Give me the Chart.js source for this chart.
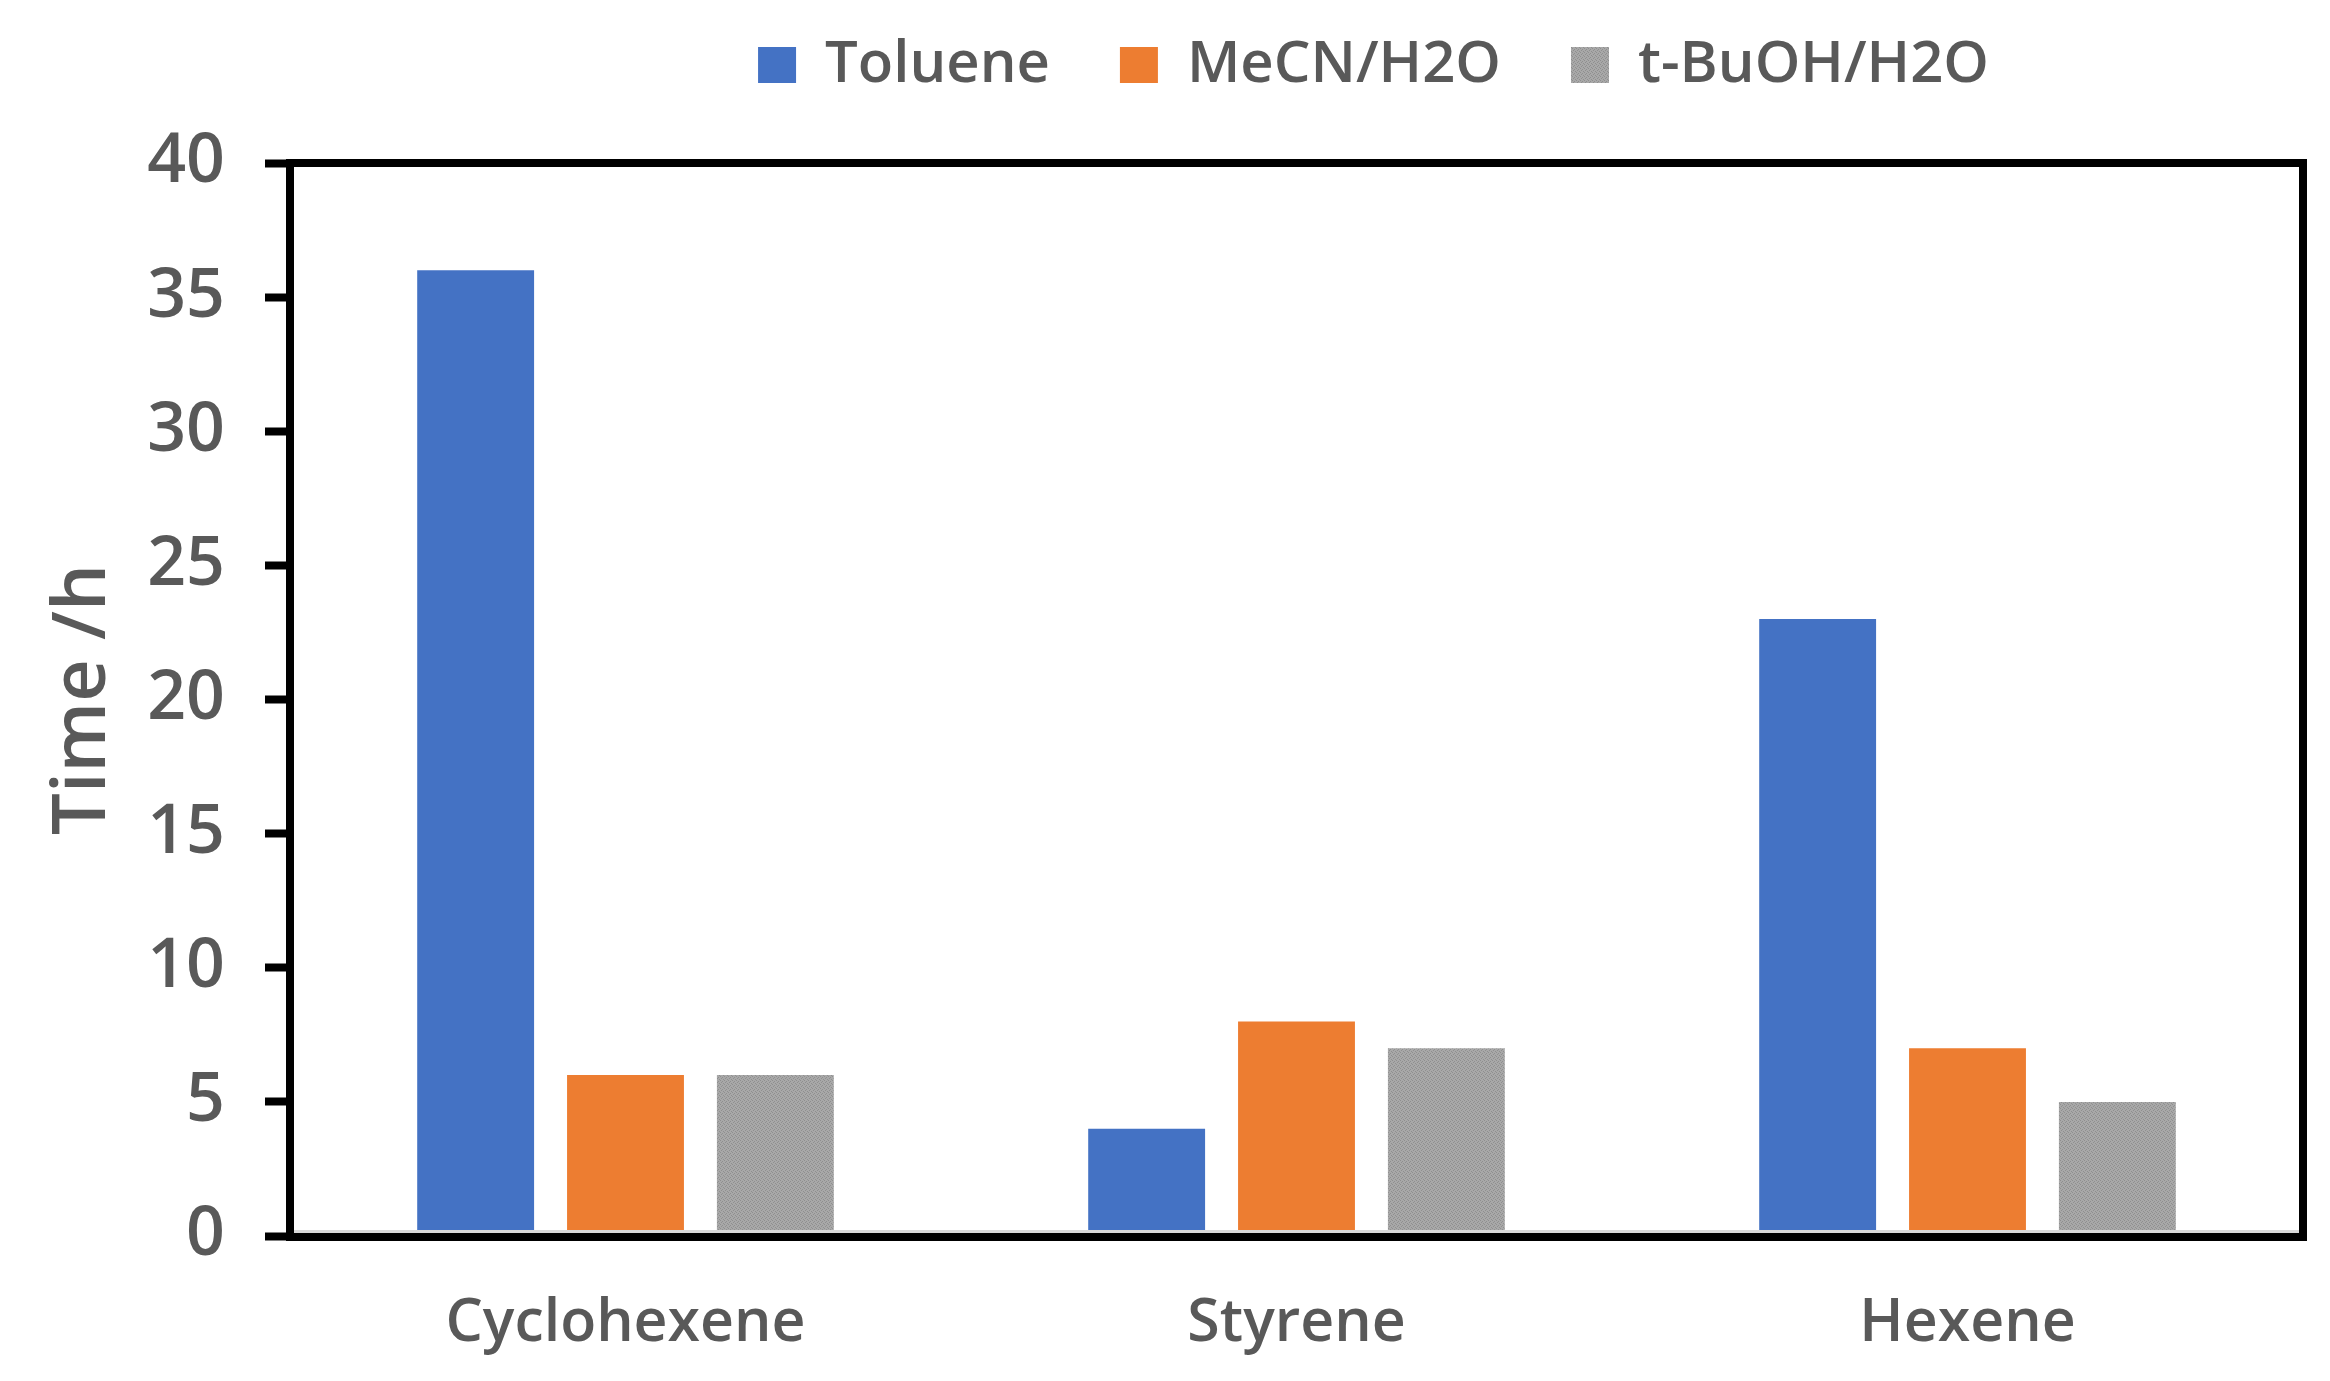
<!DOCTYPE html>
<html>
<head>
<meta charset="utf-8">
<script src="https://cdn.jsdelivr.net/npm/chart.js@4.4.0/dist/chart.umd.min.js"></script>
<style>
html,body{margin:0;padding:0;background:#ffffff;}
#wrap{width:2330px;height:1381px;position:relative;}
</style>
</head>
<body>
<div id="wrap"><canvas id="c"></canvas></div>
<script>
// ---- data ----
const categories = ['Cyclohexene', 'Styrene', 'Hexene'];
const seriesNames = ['Toluene', 'MeCN/H2O', 't-BuOH/H2O'];
const toluene = [36, 4, 23];
const mecnH2O = [6, 8, 7];
const tbuohH2O = [6, 7, 5];
const yMin = 0, yMax = 40, yStep = 5;
const yTitle = 'Time /h';

// ---- styles ----
const FONT = "'Open Sans', 'Noto Sans', sans-serif";
const TEXT = '#595959';
const canvas = document.getElementById('c');
const ctx = canvas.getContext('2d');

function grayPattern() {
  const p = document.createElement('canvas');
  p.width = 4; p.height = 4;
  const g = p.getContext('2d');
  g.fillStyle = '#a8a8a8'; g.fillRect(0, 0, 4, 4);
  g.fillStyle = '#8f8f8f';
  g.fillRect(0, 0, 1, 1); g.fillRect(2, 1, 1, 1); g.fillRect(1, 2, 1, 1); g.fillRect(3, 3, 1, 1);
  return ctx.createPattern(p, 'repeat');
}

const framePlugin = {
  id: 'frame',
  afterDatasetsDraw(chart) {
    const a = chart.chartArea;
    const c = chart.ctx;
    c.save();
    c.fillStyle = '#d9d9d9';
    c.fillRect(a.left, a.bottom - 6, a.right - a.left, 5);
    c.strokeStyle = '#000000';
    c.lineWidth = 8;
    c.lineJoin = 'miter';
    c.strokeRect(a.left, a.top, a.right - a.left, a.bottom - a.top + 1);
    c.restore();
  }
};

const legendShift = {
  id: 'legendShift',
  afterLayout(chart) {
    const l = chart.legend;
    if (l) { l.left += 222; l.right += 222; l.top -= 59; l.bottom -= 59; }
  }
};

new Chart(ctx, {
  type: 'bar',
  data: {
    labels: categories,
    datasets: [
      { label: seriesNames[0], data: toluene, backgroundColor: '#4472C4' },
      { label: seriesNames[1], data: mecnH2O, backgroundColor: '#ED7D31' },
      { label: seriesNames[2], data: tbuohH2O, backgroundColor: grayPattern() }
    ]
  },
  options: {
    responsive: true,
    maintainAspectRatio: false,
    devicePixelRatio: 1,
    animation: false,
    datasets: { bar: { barPercentage: 0.78, categoryPercentage: 0.67, borderWidth: 0 } },
    layout: { padding: { top: 25, left: 0, right: 27, bottom: 0 } },
    plugins: {
      legend: {
        position: 'top',
        labels: {
          boxWidth: 38, boxHeight: 36, padding: 70, color: TEXT,
          font: { family: FONT, size: 58, weight: '600' }
        }
      },
      tooltip: { enabled: false }
    },
    scales: {
      x: {
        grid: { display: false },
        border: { display: false },
        ticks: { color: TEXT, padding: 45, font: { family: FONT, size: 59, weight: '600' } },
        afterFit(s) { s.height = 145; }
      },
      y: {
        min: yMin, max: yMax,
        ticks: { stepSize: yStep, color: TEXT, padding: 40, font: { family: FONT, size: 68, weight: '600' } },
        grid: { drawOnChartArea: false, tickLength: 25, tickWidth: 8, tickColor: '#000000' },
        border: { display: false },
        title: { display: true, text: yTitle, color: TEXT, padding: { top: 40, bottom: 0 }, font: { family: FONT, size: 74, weight: '600' } },
        afterFit(s) { s.width = 290; }
      }
    }
  },
  plugins: [framePlugin, legendShift]
});
</script>
</body>
</html>
